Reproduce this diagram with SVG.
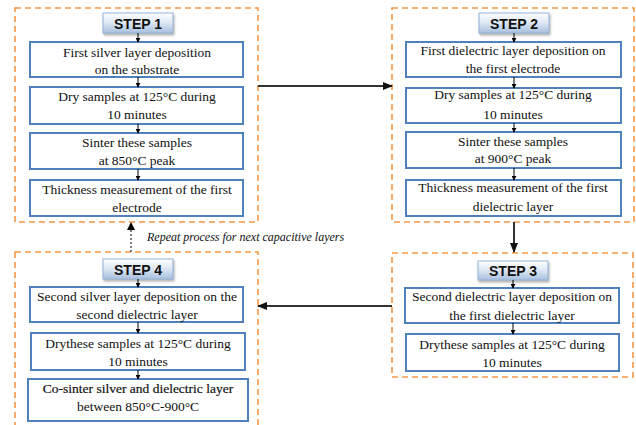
<svg xmlns="http://www.w3.org/2000/svg" width="636" height="425" viewBox="0 0 636 425">
<defs>
<linearGradient id="hg" x1="0" y1="0" x2="0" y2="1">
<stop offset="0" stop-color="#ffffff"/>
<stop offset="0.5" stop-color="#dce6f2"/>
<stop offset="1" stop-color="#a7bfde"/>
</linearGradient>
<filter id="sh" x="-20%" y="-30%" width="140%" height="170%">
<feDropShadow dx="1" dy="2" stdDeviation="1.2" flood-color="#7f7f7f" flood-opacity="0.6"/>
</filter>
<marker id="sa" viewBox="0 0 6 6" refX="5" refY="3" markerWidth="5" markerHeight="5" orient="auto" markerUnits="userSpaceOnUse">
<path d="M0,0 L6,3 L0,6 z" fill="#000"/>
</marker>
<marker id="ba" viewBox="0 0 10 10" refX="9" refY="5" markerWidth="10" markerHeight="10" orient="auto" markerUnits="userSpaceOnUse">
<path d="M0,1 L10,5 L0,9 z" fill="#111"/>
</marker>
</defs>
<style>
.outer{fill:none;stroke:#f79646;stroke-width:1.6;stroke-dasharray:6 4}
.box{fill:#fff;stroke:#4f81bd;stroke-width:2}
.hdr{fill:url(#hg);stroke:#95b3d7;stroke-width:1;filter:url(#sh)}
.ht{font-family:'Liberation Sans',Arial,sans-serif;font-weight:bold;font-size:14px;fill:#111;text-anchor:middle}
.t{font-family:'Liberation Serif','Times New Roman',serif;font-size:13.5px;fill:#111;text-anchor:middle}
.sm{stroke:#000;stroke-width:1;fill:none;marker-end:url(#sa)}
.big{stroke:#333;stroke-width:2;fill:none;marker-end:url(#ba)}
.it{font-family:'Liberation Serif','Times New Roman',serif;font-size:12px;font-style:italic;fill:#111}
</style>

<g id="step1">
<rect class="outer" x="15" y="8" width="243" height="214"/>
<rect class="hdr" x="103" y="13" width="70" height="20"/>
<text class="ht" x="138" y="29">STEP 1</text>
<rect class="box" x="30" y="42" width="213" height="35"/>
<text class="t" x="137" y="57">First silver layer deposition</text>
<text class="t" x="137" y="74">on the substrate</text>
<rect class="box" x="30" y="87" width="213" height="37"/>
<text class="t" x="137" y="101">Dry samples at 125°C during</text>
<text class="t" x="137" y="119">10 minutes</text>
<rect class="box" x="30" y="133" width="213" height="36"/>
<text class="t" x="137" y="147">Sinter these samples</text>
<text class="t" x="137" y="165">at 850°C peak</text>
<rect class="box" x="30" y="180" width="213" height="36"/>
<text class="t" x="137" y="194">Thickness measurement of the first</text>
<text class="t" x="137" y="212">electrode</text>
</g>

<g id="step2">
<rect class="outer" x="392" y="8" width="242" height="214"/>
<rect class="hdr" x="479" y="13" width="70" height="20"/>
<text class="ht" x="514" y="29">STEP 2</text>
<rect class="box" x="406" y="42" width="215" height="35"/>
<text class="t" x="513" y="55">First dielectric layer deposition on</text>
<text class="t" x="513" y="73">the first electrode</text>
<rect class="box" x="406" y="88" width="215" height="35"/>
<text class="t" x="513" y="99">Dry samples at 125°C during</text>
<text class="t" x="513" y="119">10 minutes</text>
<rect class="box" x="406" y="132" width="215" height="36"/>
<text class="t" x="513" y="146">Sinter these samples</text>
<text class="t" x="513" y="163">at 900°C peak</text>
<rect class="box" x="406" y="180" width="215" height="36"/>
<text class="t" x="513" y="192">Thickness measurement of the first</text>
<text class="t" x="513" y="211">dielectric layer</text>
</g>

<g id="step3">
<rect class="outer" x="392" y="253" width="241" height="124"/>
<rect class="hdr" x="478" y="261" width="70" height="19"/>
<text class="ht" x="513" y="276">STEP 3</text>
<rect class="box" x="405" y="288" width="214" height="35"/>
<text class="t" x="512" y="301">Second dielectric layer deposition on</text>
<text class="t" x="512" y="320">the first dielectric layer</text>
<rect class="box" x="406" y="334" width="213" height="37"/>
<text class="t" x="512" y="349">Drythese samples at 125°C during</text>
<text class="t" x="512" y="367">10 minutes</text>
</g>

<g id="step4">
<rect class="outer" x="15" y="252" width="243" height="180"/>
<rect class="hdr" x="103" y="259" width="70" height="20"/>
<text class="ht" x="138" y="275">STEP 4</text>
<rect class="box" x="30" y="287" width="213" height="35"/>
<text class="t" x="137" y="301">Second silver layer deposition on the</text>
<text class="t" x="137" y="319">second dielectric layer</text>
<rect class="box" x="31" y="333" width="214" height="37"/>
<text class="t" x="138" y="348">Drythese samples at 125°C during</text>
<text class="t" x="138" y="366">10 minutes</text>
<rect class="box" x="28" y="379" width="220" height="42"/>
<text class="t" x="138" y="393" style="stroke:#111;stroke-width:0.2">Co-sinter silver and dielectric layer</text>
<text class="t" x="138" y="411">between 850°C-900°C</text>
</g>

<g id="connectors">
<path class="sm" d="M138,33 V42"/>
<path class="sm" d="M138,77 V87"/>
<path class="sm" d="M138,124 V133"/>
<path class="sm" d="M138,169 V180"/>
<path class="sm" d="M514,33 V42"/>
<path class="sm" d="M514,77 V88"/>
<path class="sm" d="M514,123 V132"/>
<path class="sm" d="M514,168 V180"/>
<path class="sm" d="M513,280 V288"/>
<path class="sm" d="M513,323 V334"/>
<path class="sm" d="M138,279 V287"/>
<path class="sm" d="M138,322 V333"/>
<path class="sm" d="M138,370 V379"/>
<path class="big" d="M258,86 H392"/>
<path class="big" d="M514,222 V252"/>
<path class="big" d="M392,306 H258"/>
<path d="M131,252 V228" stroke="#000" stroke-width="1" stroke-dasharray="2 2" fill="none"/>
<path d="M127,230 L131,222 L135,230 z" fill="#000"/>
<text class="it" x="147" y="241">Repeat process for next capacitive layers</text>
</g>
</svg>
